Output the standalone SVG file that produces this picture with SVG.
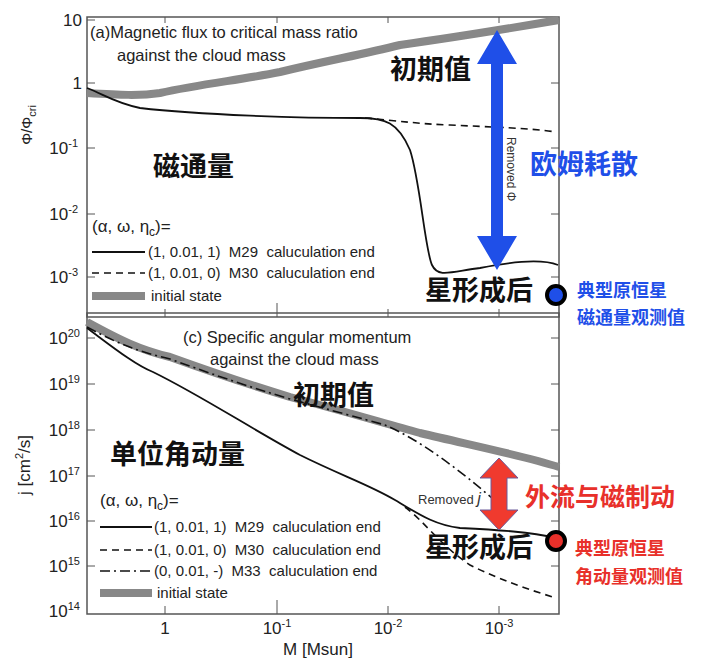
<svg xmlns="http://www.w3.org/2000/svg" width="720" height="671" viewBox="0 0 720 671">
<style>
.ax{font-family:"Liberation Sans",Arial,sans-serif;font-size:17px;fill:#222}
.sup{font-size:11px}
.lg{font-family:"Liberation Sans",Arial,sans-serif;font-size:15px;fill:#222;white-space:pre}
.cn{font-family:"Noto Sans CJK SC",sans-serif;font-weight:bold;font-size:27px;fill:#111}
.blue{fill:#1f4fe8}
.red{fill:#e8302a}
.sm{font-size:18px}
.fr{fill:none;stroke:#555;stroke-width:1.5}
.g{fill:none;stroke:#888;stroke-width:8}
.s{fill:none;stroke:#111;stroke-width:1.8}
.d{fill:none;stroke:#111;stroke-width:1.6;stroke-dasharray:7 5}
.dd{fill:none;stroke:#111;stroke-width:1.6;stroke-dasharray:10 4 2 4}
.tk{stroke:#555;stroke-width:1}
</style>
<rect width="720" height="671" fill="#fff"/>
<g id="panel-a">
<rect class="fr" x="87" y="17" width="472" height="300"/>
<path class="tk" d="M87 20h8M87 83h8M87 148h8M87 214h8M87 277h8M559 20h-8M559 83h-8M559 148h-8M559 214h-8M559 277h-8M165 317v-8M277 317v-14M388 317v-8M499 317v-8M165 17v6M277 17v6M388 17v6M499 17v6"/>
<text class="ax" x="82" y="26" text-anchor="end">10</text>
<text class="ax" x="82" y="89" text-anchor="end">1</text>
<text class="ax" x="78" y="154" text-anchor="end">10<tspan class="sup" dy="-7">-1</tspan></text>
<text class="ax" x="78" y="220" text-anchor="end">10<tspan class="sup" dy="-7">-2</tspan></text>
<text class="ax" x="78" y="283" text-anchor="end">10<tspan class="sup" dy="-7">-3</tspan></text>
<text class="ax" transform="translate(32 125) rotate(-90)" text-anchor="middle" style="font-size:15px">Φ/Φ<tspan class="sup" dy="4">cri</tspan></text>
<text class="lg" x="90" y="38" style="font-size:16.5px">(a)Magnetic flux to critical mass ratio</text>
<text class="lg" x="117" y="61" style="font-size:16.5px">against the cloud mass</text>
<path class="g" d="M87 93 C120 95 140 96 160 93 C200 84 240 80 280 72 C330 60 360 55 400 45 C450 38 500 30 559 20"/>
<path class="s" d="M87 88 C105 95 115 103 140 108 C200 115 300 118 360 118 C385 118 398 122 410 150 C420 180 425 250 432 265 C438 278 450 272 480 268 C510 262 540 258 558 265"/>
<path class="d" d="M365 118 C400 121 420 124 450 125 C490 127 530 128 556 132"/>
<text class="lg" x="92" y="232" style="font-size:17px">(α, ω, η<tspan style="font-size:12px" dy="4">c</tspan><tspan dy="-4">)=</tspan></text>
<line class="s" x1="92" y1="252" x2="145" y2="252" stroke-width="2.5"/>
<text class="lg" x="148" y="257">(1, 0.01, 1)  M29  caluculation end</text>
<line class="d" x1="92" y1="273" x2="145" y2="273"/>
<text class="lg" x="148" y="278">(1, 0.01, 0)  M30  caluculation end</text>
<line x1="92" y1="296" x2="145" y2="296" stroke="#888" stroke-width="8"/>
<text class="lg" x="151" y="301">initial state</text>
</g>
<g id="panel-c">
<rect class="fr" x="87" y="313" width="472" height="301"/>
<path class="tk" d="M87 338h8M87 384h8M87 430h8M87 476h8M87 521h8M87 566h8M559 338h-8M559 384h-8M559 430h-8M559 476h-8M559 521h-8M559 566h-8M165 614v-8M277 614v-14M388 614v-8M499 614v-8"/>
<text class="ax" x="80" y="344" text-anchor="end">10<tspan class="sup" dy="-7">20</tspan></text>
<text class="ax" x="80" y="390" text-anchor="end">10<tspan class="sup" dy="-7">19</tspan></text>
<text class="ax" x="80" y="436" text-anchor="end">10<tspan class="sup" dy="-7">18</tspan></text>
<text class="ax" x="80" y="482" text-anchor="end">10<tspan class="sup" dy="-7">17</tspan></text>
<text class="ax" x="80" y="527" text-anchor="end">10<tspan class="sup" dy="-7">16</tspan></text>
<text class="ax" x="80" y="572" text-anchor="end">10<tspan class="sup" dy="-7">15</tspan></text>
<text class="ax" x="80" y="617" text-anchor="end">10<tspan class="sup" dy="-7">14</tspan></text>
<text class="ax" x="165" y="634" text-anchor="middle">1</text>
<text class="ax" x="277" y="634" text-anchor="middle">10<tspan class="sup" dy="-7">-1</tspan></text>
<text class="ax" x="388" y="634" text-anchor="middle">10<tspan class="sup" dy="-7">-2</tspan></text>
<text class="ax" x="499" y="634" text-anchor="middle">10<tspan class="sup" dy="-7">-3</tspan></text>
<text class="ax" x="318" y="655" text-anchor="middle">M [Msun]</text>
<text class="ax" transform="translate(30 465) rotate(-90)" text-anchor="middle">j [cm<tspan class="sup" dy="-7">2</tspan><tspan dy="7">/s]</tspan></text>
<text class="lg" x="183" y="343" style="font-size:16.5px">(c) Specific angular momentum</text>
<text class="lg" x="210" y="365" style="font-size:16.5px">against the cloud mass</text>
<path class="g" d="M87 322 C120 340 140 350 170 357 C220 375 250 385 290 397 C340 410 380 422 420 433 C470 445 520 455 559 467"/>
<path class="dd" d="M87 327 C120 345 140 352 170 359 C220 377 250 387 290 399 C330 410 360 418 385 425 C420 440 460 470 500 505"/>
<path class="s" d="M87 328 C110 345 135 365 153 372 C200 395 250 428 300 455 C340 475 370 485 395 500 C420 515 435 525 460 528 C500 530 530 532 556 538"/>
<path class="d" d="M405 507 C425 522 440 545 470 565 C500 580 530 590 556 598"/>
<text class="lg" x="100" y="506" style="font-size:17px">(α, ω, η<tspan style="font-size:12px" dy="4">c</tspan><tspan dy="-4">)=</tspan></text>
<line class="s" x1="100" y1="527" x2="152" y2="527" stroke-width="2.5"/>
<text class="lg" x="154" y="532">(1, 0.01, 1)  M29  caluculation end</text>
<line class="d" x1="100" y1="550" x2="152" y2="550"/>
<text class="lg" x="154" y="555">(1, 0.01, 0)  M30  caluculation end</text>
<line class="dd" x1="100" y1="571" x2="152" y2="571"/>
<text class="lg" x="154" y="576">(0, 0.01, -)  M33  caluculation end</text>
<line x1="100" y1="593" x2="152" y2="593" stroke="#888" stroke-width="8"/>
<text class="lg" x="157" y="598">initial state</text>
</g>
<g id="annot-top">
<polygon fill="#1f4fe8" points="497,30 517,64 503,64 503,236 517,236 497,270 477,236 491,236 491,64 477,64"/>
<text class="lg" transform="translate(507 137) rotate(90)" style="font-size:12px;fill:#333">Removed Φ</text>
<text class="cn" x="390" y="79">初期值</text>
<text class="cn" x="153" y="176">磁通量</text>
<text class="cn blue" x="530" y="174">欧姆耗散</text>
<text class="cn" x="425" y="300">星形成后</text>
<circle cx="556" cy="295" r="9" fill="#1f4fe8" stroke="#000" stroke-width="4"/>
<text class="cn blue sm" x="577" y="297">典型原恒星</text>
<text class="cn blue sm" x="577" y="324">磁通量观测值</text>
</g>
<g id="annot-bottom">
<polygon fill="#f03a2e" stroke="#6a5a9a" stroke-width="1" points="499,458 518,478 507,478 507,510 518,510 499,530 480,510 491,510 491,478 480,478"/>
<text class="lg" x="418" y="504" style="font-size:13px;fill:#333">Removed <tspan style="font-style:italic;font-size:16px">j</tspan></text>
<text class="cn red" x="525" y="506" style="font-size:25px">外流与磁制动</text>
<text class="cn" x="293" y="405">初期值</text>
<text class="cn" x="110" y="464">单位角动量</text>
<text class="cn" x="425" y="557">星形成后</text>
<circle cx="556" cy="541" r="9" fill="#e8302a" stroke="#000" stroke-width="4"/>
<text class="cn red sm" x="575" y="555">典型原恒星</text>
<text class="cn red sm" x="575" y="583">角动量观测值</text>
</g>
</svg>
